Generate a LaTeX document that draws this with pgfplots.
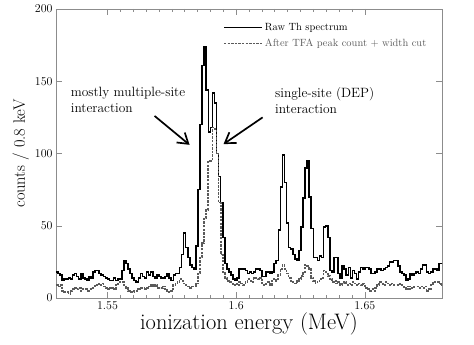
\documentclass[border=0pt]{standalone}
\usepackage{pgfplots}
\pgfplotsset{compat=1.18}
\usepackage{pgfplotstable}
\usetikzlibrary{arrows.meta}
\definecolor{axgray}{RGB}{140,140,140}
\definecolor{cutgray}{RGB}{90,90,90}
\definecolor{txtgray}{RGB}{90,90,90}

% E (MeV, bin low edge), raw Th spectrum, after TFA cut  -- 0.8 keV bins
\pgfplotstableread{
E raw cut
1.5300 18 9
1.5308 17 8
1.5316 16 9
1.5324 12 5
1.5332 13 4
1.5340 13 4
1.5348 14 3
1.5356 13 5
1.5364 16 6
1.5372 17 7
1.5380 15 6
1.5388 13 7
1.5396 17 5
1.5404 14 6
1.5412 13 6
1.5420 12 5
1.5428 15 6
1.5436 14 7
1.5444 18 8
1.5452 19 9
1.5460 19 10
1.5468 17 9
1.5476 16 10
1.5484 15 8
1.5492 14 7
1.5500 13 6
1.5508 12 7
1.5516 12 7
1.5524 14 6
1.5532 12 9
1.5540 13 10
1.5548 13 11
1.5556 19 11
1.5564 26 9
1.5572 24 7
1.5580 20 5
1.5588 17 4
1.5596 14 4
1.5604 12 5
1.5612 11 5
1.5620 14 6
1.5628 17 7
1.5636 15 7
1.5644 14 6
1.5652 18 7
1.5660 16 8
1.5668 18 9
1.5676 15 8
1.5684 14 9
1.5692 16 7
1.5700 15 7
1.5708 14 7
1.5716 14 8
1.5724 15 6
1.5732 17 4
1.5740 14 4
1.5748 12 5
1.5756 16 9
1.5764 17 10
1.5772 17 11
1.5780 21 13
1.5788 30 12
1.5796 45 10
1.5804 35 9
1.5812 28 8
1.5820 23 7
1.5828 21 8
1.5836 20 8
1.5844 36 10
1.5852 75 17
1.5860 120 28
1.5868 161 38
1.5876 174 55
1.5884 144 61
1.5892 115 95
1.5900 118 95
1.5908 142 118
1.5916 135 117
1.5924 100 100
1.5932 84 66
1.5940 66 30
1.5948 42 18
1.5956 24 14
1.5964 20 12
1.5972 18 11
1.5980 16 10
1.5988 13 9
1.5996 12 10
1.6004 14 9
1.6012 20 11
1.6020 20 10
1.6028 20 9
1.6036 19 11
1.6044 17 13
1.6052 18 12
1.6060 17 11
1.6068 18 14
1.6076 20 14
1.6084 20 13
1.6092 19 14
1.6100 15 10
1.6108 15 9
1.6116 18 10
1.6124 18 11
1.6132 17 9
1.6140 18 13
1.6148 24 13
1.6156 26 12
1.6164 47 16
1.6172 77 20
1.6180 99 23
1.6188 80 20
1.6196 52 17
1.6204 35 14
1.6212 34 12
1.6220 30 11
1.6228 27 10
1.6236 26 12
1.6244 33 13
1.6252 49 15
1.6260 69 18
1.6268 90 23
1.6276 95 22
1.6284 70 20
1.6292 48 14
1.6300 28 12
1.6308 28 10
1.6316 26 11
1.6324 29 13
1.6332 28 14
1.6340 49 19
1.6348 50 17
1.6356 42 15
1.6364 19 13
1.6372 18 11
1.6380 28 12
1.6388 28 10
1.6396 17 11
1.6404 14 9
1.6412 22 10
1.6420 20 11
1.6428 16 9
1.6436 21 10
1.6444 14 9
1.6452 19 11
1.6460 17 10
1.6468 13 9
1.6476 18 10
1.6484 21 9
1.6492 20 10
1.6500 21 7
1.6508 21 6
1.6516 20 5
1.6524 17 6
1.6532 17 5
1.6540 18 7
1.6548 20 9
1.6556 20 11
1.6564 19 10
1.6572 20 9
1.6580 21 11
1.6588 22 10
1.6596 25 9
1.6604 25 10
1.6612 26 9
1.6620 26 9
1.6628 22 10
1.6636 18 9
1.6644 17 8
1.6652 16 7
1.6660 12 6
1.6668 13 8
1.6676 17 6
1.6684 16 7
1.6692 17 8
1.6700 18 8
1.6708 17 7
1.6716 20 8
1.6724 23 7
1.6732 23 8
1.6740 18 5
1.6748 17 6
1.6756 18 9
1.6764 20 11
1.6772 20 11
1.6780 19 11
1.6788 24 10
1.6796 24 9
1.6804 24 9
}\spectrum

\begin{document}
\begin{tikzpicture}
\begin{axis}[
    name=ax,
    scale only axis,
    width=386bp, height=289bp,
    xmin=1.53, xmax=1.68,
    ymin=0, ymax=200,
    xtick={1.55,1.6,1.65},
    minor x tick num=9,
    ytick={0,50,100,150,200},
    tick align=inside,
    major tick length=6bp,
    minor tick length=3bp,
    axis line style={axgray, line width=0.6pt},
    every tick/.style={axgray, line width=0.5pt},
    tick label style={font=\fontsize{13}{15}\selectfont},
    xlabel={ionization energy (MeV)},
    ylabel={counts / 0.8 keV},
    xlabel style={font=\fontsize{22.5}{26}\selectfont, yshift=3bp},
    ylabel style={font=\fontsize{16.5}{19}\selectfont, yshift=-1bp},
    legend style={draw=none, fill=none, at={(0.425,0.965)}, anchor=north west,
        font=\fontsize{10.5}{13}\selectfont, row sep=3bp},
    legend cell align=left,
    legend image code/.code={\draw[#1] (0bp,0bp) -- (38bp,0bp);},
]
\addplot[const plot, black, line width=1.6pt] table[x=E, y=raw] {\spectrum};
\addlegendentry{Raw Th spectrum}
\addplot[const plot, cutgray, line width=1.7pt, dash pattern=on 2.4pt off 1.2pt] table[x=E, y=cut] {\spectrum};
\addlegendentry{\textcolor{txtgray}{After TFA peak count + width cut}}

\node[anchor=north west, align=left, font=\fontsize{13.5}{16}\selectfont] at (axis cs:1.5344,148) {mostly multiple-site\\interaction};
\node[anchor=north west, align=left, font=\fontsize{13.5}{16}\selectfont] at (axis cs:1.6138,148) {single-site (DEP)\\interaction};
\draw[line width=1.7pt, -{Straight Barb[length=10pt, width=13pt]}] (axis cs:1.5683,126) -- (axis cs:1.5819,106);
\draw[line width=1.7pt, -{Straight Barb[length=10pt, width=13pt]}] (axis cs:1.6103,125) -- (axis cs:1.5951,106.5);
\end{axis}
\path ([shift={(-56bp,-47bp)}]ax.south west) rectangle ([shift={(32bp,9bp)}]ax.north east);
\end{tikzpicture}
\end{document}
